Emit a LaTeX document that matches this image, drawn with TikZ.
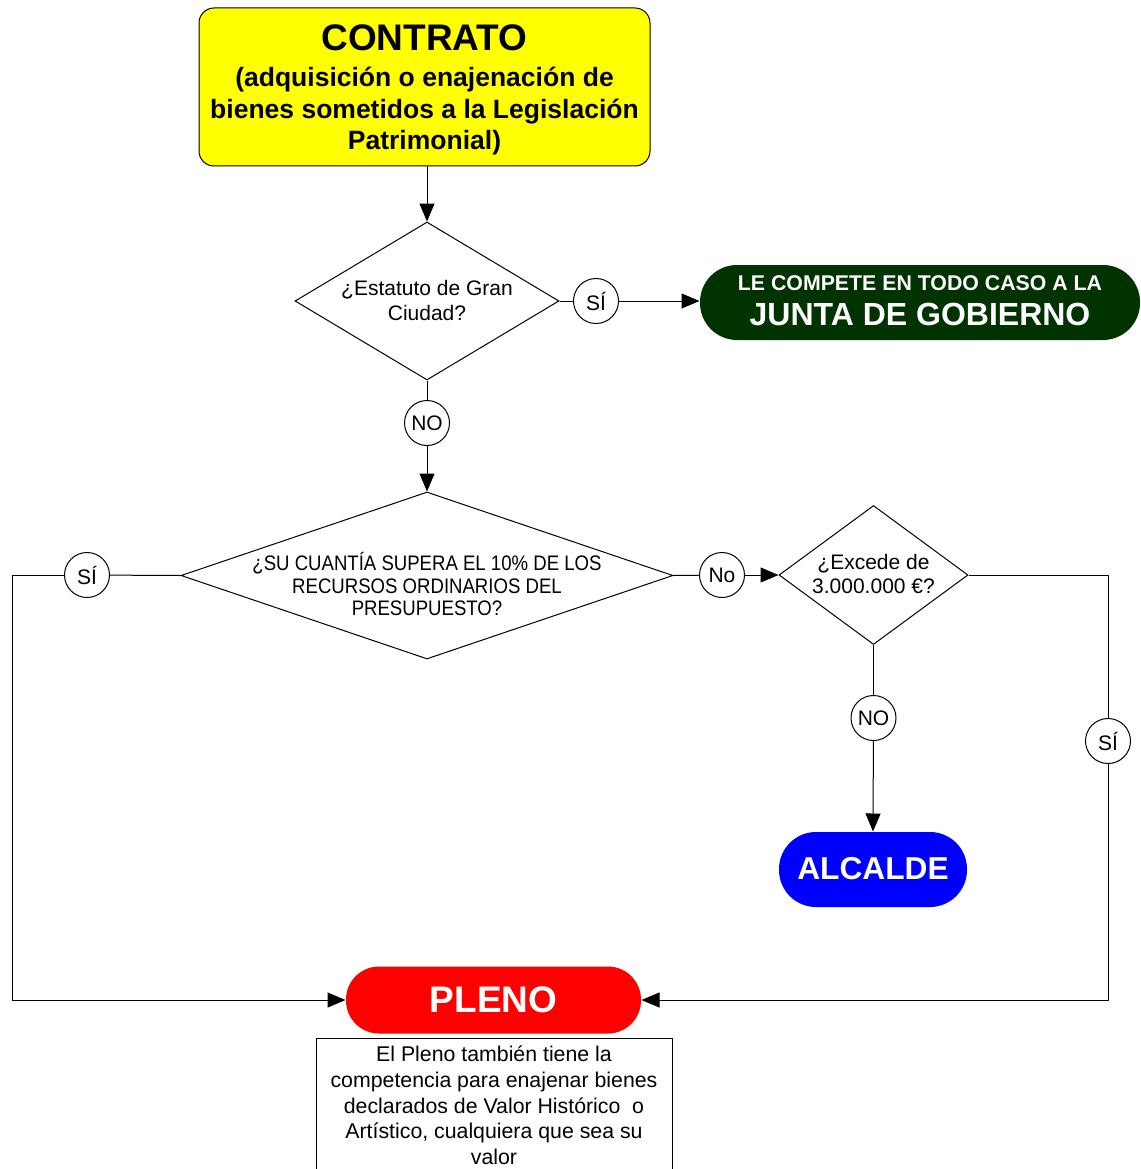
\documentclass[tikz,border=0pt]{standalone}
\usepackage{fontspec}
\setmainfont{Liberation Sans}
\newfontfamily\narrowfont[FakeStretch=0.885]{Liberation Sans}
\usetikzlibrary{shapes.geometric,arrows.meta}
\definecolor{juntagreen}{RGB}{0,51,0}
\definecolor{contratoyellow}{RGB}{255,255,0}
\definecolor{plenored}{RGB}{255,0,0}
\definecolor{alcaldeblue}{RGB}{0,0,255}
\begin{document}
\begin{tikzpicture}[x=1pt,y=-1pt,line width=1pt,
  arr/.style={-{Triangle[length=18pt,width=15pt]}},
  dia/.style={diamond,draw,inner sep=0pt,fill=white},
  lbl/.style={circle,draw,fill=white,minimum size=45pt,inner sep=0pt,font=\fontsize{21}{24}\selectfont},
  txt/.style={anchor=base,inner sep=0pt},
  termbox/.style={draw=none,inner sep=0pt,text=white}]
\clip (0,0) rectangle (1140,1169);
\fill[white] (0,0) rectangle (1140,1169);

% Contrato
\node[draw,fill=contratoyellow,rounded corners=15pt,minimum width=451pt,minimum height=158pt,inner sep=0pt] (contrato) at (424.5,87) {};
\node[txt,font=\fontsize{37}{40}\selectfont\bfseries] (c1) at (424.5,51) {CONTRATO};
\node[txt,font=\fontsize{26.5}{31}\selectfont\bfseries] (c2) at (424.5,87) {(adquisición o enajenación de};
\node[txt,font=\fontsize{26.5}{31}\selectfont\bfseries] (c3) at (424.5,118.5) {bienes sometidos a la Legislación};
\node[txt,font=\fontsize{26.5}{31}\selectfont\bfseries] (c4) at (424.5,150) {Patrimonial)};

% Diamond 1
\node[dia,minimum width=264pt,minimum height=158pt] (d1) at (427,301) {};
\node[txt,font=\fontsize{21}{24}\selectfont] (d1a) at (427,295.5) {¿Estatuto de Gran};
\node[txt,font=\fontsize{21}{24}\selectfont] (d1b) at (427,320.5) {Ciudad?};

% Junta
\node[termbox,fill=juntagreen,rounded corners=37pt,minimum width=440pt,minimum height=75pt] (junta) at (920,302.5) {};
\node[txt,text=white,font=\fontsize{21.3}{24}\selectfont\bfseries] (j1) at (920,290) {LE COMPETE EN TODO CASO A LA};
\node[txt,text=white,font=\fontsize{32}{36}\selectfont\bfseries] (j2) at (920,325) {JUNTA DE GOBIERNO};

% Diamond 2
\node[dia,minimum width=492pt,minimum height=167pt] (d2) at (427,575.5) {};
\node[txt,font=\fontsize{21}{24}\narrowfont] (d2a) at (427,570) {¿SU CUANTÍA SUPERA EL 10\% DE LOS};
\node[txt,font=\fontsize{21}{24}\narrowfont] (d2b) at (427,593) {RECURSOS ORDINARIOS DEL};
\node[txt,font=\fontsize{21}{24}\narrowfont] (d2c) at (427,615.5) {PRESUPUESTO?};

% Diamond 3
\node[dia,minimum width=189pt,minimum height=139pt] (d3) at (873.5,575) {};
\node[txt,font=\fontsize{21}{24}\selectfont] (d3a) at (873.5,569.5) {¿Excede de};
\node[txt,font=\fontsize{21}{24}\selectfont] (d3b) at (873.5,593) {3.000.000 €?};

% Alcalde
\node[termbox,fill=alcaldeblue,rounded corners=37pt,minimum width=188pt,minimum height=75pt] (alcalde) at (873,869.5) {};
\node[txt,text=white,font=\fontsize{31.7}{36}\selectfont\bfseries] (a1) at (873,879.5) {ALCALDE};

% Pleno
\node[termbox,fill=plenored,rounded corners=33pt,minimum width=295pt,minimum height=67pt] (pleno) at (493.5,1000) {};
\node[txt,text=white,font=\fontsize{37}{40}\selectfont\bfseries] (p1) at (493.5,1012) {PLENO};

% Nota
\node[draw,line width=0.8pt,minimum width=356pt,minimum height=160pt,anchor=north,inner sep=0pt] (nota) at (494,1038) {};
\node[txt,font=\fontsize{21.3}{24}\selectfont] (n1) at (494,1061.5) {El Pleno también tiene la};
\node[txt,font=\fontsize{21.3}{24}\selectfont] (n2) at (494,1087.5) {competencia para enajenar bienes};
\node[txt,font=\fontsize{21.3}{24}\selectfont] (n3) at (494,1113) {declarados de Valor Histórico\ \ o};
\node[txt,font=\fontsize{21.3}{24}\selectfont] (n4) at (494,1138.5) {Artístico, cualquiera que sea su};
\node[txt,font=\fontsize{21.3}{24}\selectfont] (n5) at (494,1164) {valor};

% Labels
\node[lbl] (si1) at (596,301) {SÍ};
\node[lbl] (no1) at (427,423) {NO};
\node[lbl] (sil) at (87,575) {SÍ};
\node[lbl] (no2) at (722,575) {No};
\node[lbl] (no3) at (873.5,718) {NO};
\node[lbl] (sir) at (1108,741) {SÍ};

\coordinate (cl) at (12,575);
\coordinate (cr) at (1108,575);

% Connectors
\draw[arr] (d1.north |- contrato.south) -- (d1.north);
\draw (d1.east) -- (si1);
\draw[arr] (si1.east) -- (si1.east -| junta.west);
\draw (d1.south) -- (no1);
\draw[arr] (no1) -- (d2.north);
\draw (d2.west) -- (sil);
\draw[arr] (sil.west) -- (cl) |- (pleno.west);
\draw (d2.east) -- (no2);
\draw[arr] (no2) -- (d3.west);
\draw (d3.east) -- (cr) -- (sir);
\draw[arr] (sir.south) |- (pleno.east);
\draw (d3.south) -- (no3);
\draw[arr] (no3) -- (alcalde.north);
\end{tikzpicture}
\end{document}
